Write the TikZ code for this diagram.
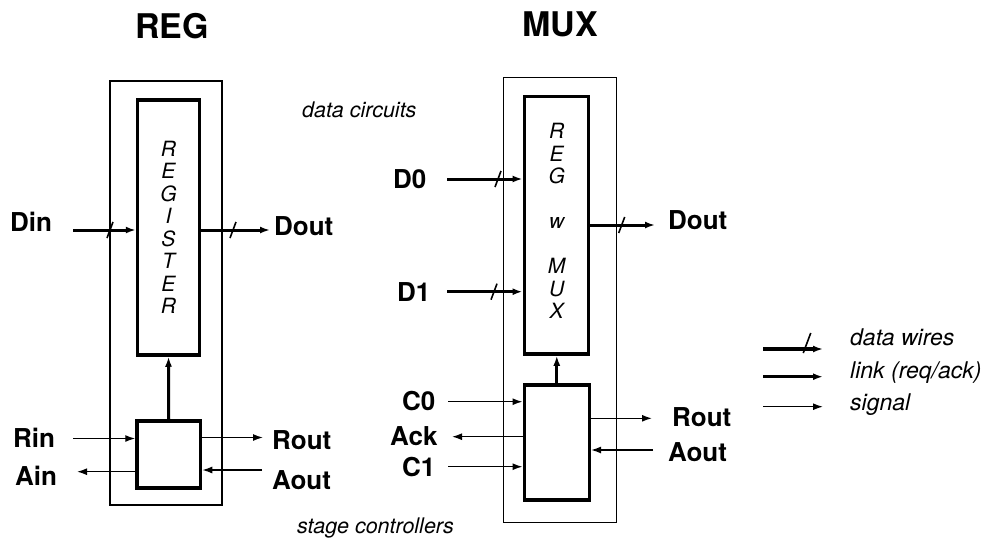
\documentclass[tikz,border=0pt]{standalone}
\usepackage{fontspec}
\setmainfont{TeX Gyre Heros}
\usetikzlibrary{arrows.meta}
\begin{document}
\begin{tikzpicture}[x=1pt,y=-1pt,
  lab/.style={font=\fontsize{26}{26}\selectfont\bfseries, inner sep=0pt},
  ttl/.style={font=\fontsize{34}{34}\selectfont\bfseries, inner sep=0pt},
  note/.style={font=\fontsize{21.5}{21.5}\selectfont\itshape, inner sep=0pt},
  lgnote/.style={font=\fontsize{23}{23}\selectfont\itshape, inner sep=0pt},
  inword/.style={font=\fontsize{21}{22.5}\selectfont\itshape, inner sep=0pt, align=center},
  outerbox/.style={draw, line width=1.5pt, inner sep=0pt},
  corebox/.style={draw, line width=3.5pt, inner sep=0pt},
  tip/.style={-{Latex[length=10pt,width=7pt]}},
  dataw/.style={tip, line width=3pt},
  linkw/.style={tip, line width=3pt},
  sigw/.style={tip, line width=1.4pt},
  slashpic/.pic={\draw[line width=1.6pt] (-3pt,-8pt) -- (3pt,8pt);}
]
\useasboundingbox (0,0) rectangle (997,542);

% ---------- REG ----------
\node[ttl] (regtitle) at (172,26) {REG};
\node[outerbox, minimum width=112pt, minimum height=424pt] (regout) at (166,293) {};
\node[corebox, minimum width=62pt, minimum height=255pt, inword] (reg) at (168.5,227.5) {R\\E\\G\\I\\S\\T\\E\\R};
\node[corebox, minimum width=63.5pt, minimum height=67pt] (regctl) at (168.75,454.5) {};

\node[lab, anchor=west] (din) at (10,222) {Din};
\node[lab, anchor=west] (rin) at (13,438) {Rin};
\node[lab, anchor=west] (ain) at (15,476) {Ain};
\node[lab, anchor=west] (regdout) at (274,226) {Dout};
\node[lab, anchor=west] (regrout) at (272,440) {Rout};
\node[lab, anchor=west] (regaout) at (272,480) {Aout};

\coordinate (dinS) at (73,230);
\coordinate (regdoutE) at (270,230);
\coordinate (rinS) at (73,438.5);
\coordinate (ainE) at (77,471.7);
\coordinate (regroutE) at (263,437.5);
\coordinate (regaoutS) at (262,470);

\draw[dataw] (dinS) -- (dinS -| reg.west);
\draw[dataw] (reg.east |- regdoutE) -- (regdoutE);
\draw[sigw] (rinS) -- (rinS -| regctl.west);
\draw[sigw] (regctl.west |- ainE) -- (ainE);
\draw[sigw] (regctl.east |- regroutE) -- (regroutE);
\draw[sigw] (regaoutS) -- (regaoutS -| regctl.east);
\draw[linkw] (regctl.north) -- (reg.south);
\pic at (110,230) {slashpic};
\pic at (233,230) {slashpic};

% ---------- MUX ----------
\node[ttl] (muxtitle) at (560,24) {MUX};
\node[outerbox, minimum width=113.4pt, minimum height=445.4pt] (muxout) at (560,300) {};
\node[corebox, minimum width=64pt, minimum height=257.3pt] (muxreg) at (556.3,225.35) {};
\node[inword] (muxtxt) at (556.7,221) {R\\E\\G\\[0pt]\\w\\[0pt]\\M\\U\\X};
\node[corebox, minimum width=65pt, minimum height=115pt] (muxctl) at (556.8,442.5) {};

\node[lab, anchor=west] (d0) at (393,179) {D0};
\node[lab, anchor=west] (d1) at (397,292) {D1};
\node[lab, anchor=west] (c0) at (402,401.5) {C0};
\node[lab, anchor=west] (ack) at (390,436) {Ack};
\node[lab, anchor=west] (c1) at (402,467) {C1};
\node[lab, anchor=west] (muxdout) at (668,220) {Dout};
\node[lab, anchor=west] (muxrout) at (672,417) {Rout};
\node[lab, anchor=west] (muxaout) at (668,452) {Aout};

\coordinate (d0S) at (447,179);
\coordinate (d1S) at (447,291.7);
\coordinate (muxdoutE) at (655,225);
\coordinate (c0S) at (448,401.7);
\coordinate (ackE) at (452,436.7);
\coordinate (c1S) at (448,466.7);
\coordinate (muxroutE) at (652,418.3);
\coordinate (muxaoutS) at (653,450);

\draw[dataw] (d0S) -- (d0S -| muxreg.west);
\draw[dataw] (d1S) -- (d1S -| muxreg.west);
\draw[dataw] (muxreg.east |- muxdoutE) -- (muxdoutE);
\draw[sigw] (c0S) -- (c0S -| muxctl.west);
\draw[sigw] (muxctl.west |- ackE) -- (ackE);
\draw[sigw] (c1S) -- (c1S -| muxctl.west);
\draw[sigw] (muxctl.east |- muxroutE) -- (muxroutE);
\draw[sigw] (muxaoutS) -- (muxaoutS -| muxctl.east);
\draw[linkw] (muxctl.north) -- (muxctl.north |- muxreg.south);
\pic at (498,179) {slashpic};
\pic at (494,291.7) {slashpic};
\pic at (621.7,225) {slashpic};

% ---------- notes ----------
\node[note, anchor=west] (datacirc) at (302,110) {data circuits};
\node[note, anchor=west] (stagectl) at (297,528) {stage controllers};

% ---------- legend ----------
\coordinate (l1a) at (763,349);
\coordinate (l1b) at (823,349);
\coordinate (l2a) at (763,376.7);
\coordinate (l2b) at (823,376.7);
\coordinate (l3a) at (763,406.7);
\coordinate (l3b) at (823,406.7);
\draw[dataw, line width=3.5pt] (l1a) -- (l1b);
\draw[linkw] (l2a) -- (l2b);
\draw[sigw] (l3a) -- (l3b);
\pic[scale=1.25] at (807,343) {slashpic};
\node[lgnote, anchor=west] (lgdata) at (850,337) {data wires};
\node[lgnote, anchor=west] (lglink) at (850,373) {link (req/ack)};
\node[lgnote, anchor=west] (lgsig) at (850,405) {signal};
\end{tikzpicture}
\end{document}
